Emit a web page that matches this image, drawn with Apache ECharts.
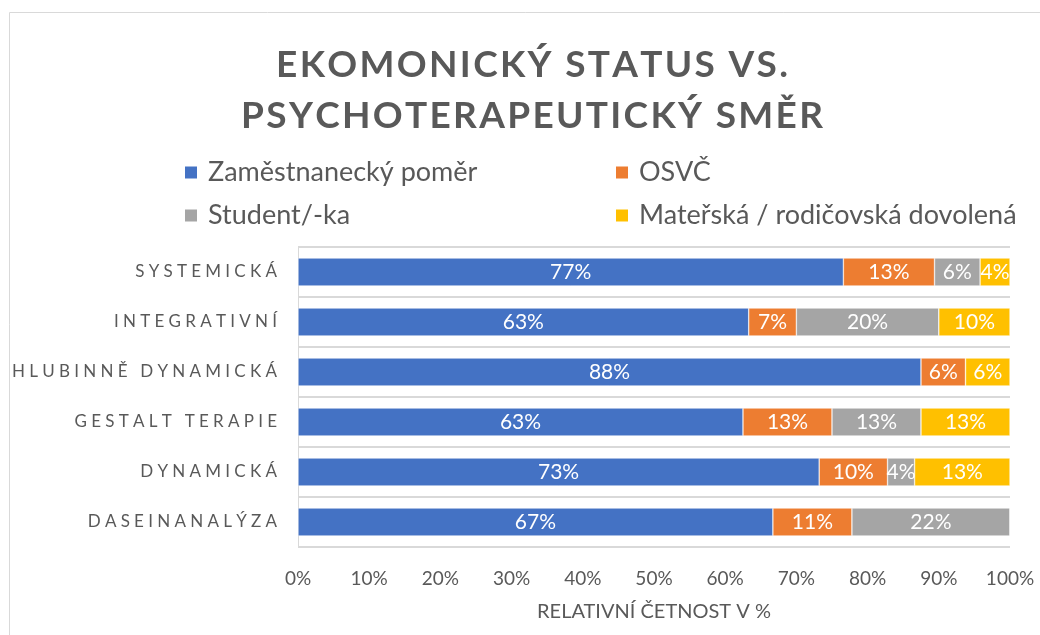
<!DOCTYPE html>
<html>
<head>
<meta charset="utf-8">
<script src="https://cdn.jsdelivr.net/npm/echarts@6/dist/echarts.min.js"></script>
<style>html,body{margin:0;padding:0;background:#fff}#c{width:1040px;height:635px}</style>
</head>
<body>
<div id="c"></div>
<script>
const categories = ['Systemická', 'Integrativní', 'Hlubinně dynamická', 'Gestalt terapie', 'Dynamická', 'Daseinanalýza'];
const seriesNames = ['Zaměstnanecký poměr', 'OSVČ', 'Student/-ka', 'Mateřská / rodičovská dovolená'];
const zamestnanec = [76.6, 63.3, 87.5, 62.5, 73.2, 66.7];
const osvc = [12.8, 6.7, 6.25, 12.5, 9.6, 11.1];
const student = [6.4, 20.0, 0, 12.5, 3.8, 22.2];
const materska = [4.2, 10.0, 6.25, 12.5, 13.4, 0];
const xTicks = [0, 10, 20, 30, 40, 50, 60, 70, 80, 90, 100];
const titleLines = ['EKOMONICKÝ STATUS VS.', 'PSYCHOTERAPEUTICKÝ SMĚR'];
const xAxisName = 'RELATIVNÍ ČETNOST V %';

const colors = ['#4472C4', '#ED7D31', '#A5A5A5', '#FFC000'];
const FONT = 'Lato, "Open Sans", sans-serif';
const GRAY = '#595959';

function spaced(s, sp) {
  return Array.from(s.toUpperCase()).join(sp);
}

const chart = echarts.init(document.getElementById('c'), null, {renderer: 'canvas'});
const allData = [zamestnanec, osvc, student, materska];

const legendPos = [[183, 159], [614, 159], [183, 202], [614, 202]];

const option = {
  animation: false,
  color: colors,
  title: {
    text: titleLines.map(l => spaced(l, '\u200A')).join('\n'),
    left: 527,
    textAlign: 'center',
    top: 35,
    textStyle: {fontFamily: FONT, fontSize: 37, fontWeight: 'bold', color: GRAY, lineHeight: 51}
  },
  legend: seriesNames.map((n, i) => ({
    data: [n],
    left: legendPos[i][0],
    top: legendPos[i][1],
    padding: 0,
    itemWidth: 14, itemHeight: 14,
    icon: 'rect',
    itemGap: 8,
    textStyle: {fontFamily: FONT, fontSize: 27, color: GRAY, padding: [0, 0, 0, 5]}
  })),
  graphic: [{
    type: 'rect',
    shape: {x: 9.5, y: 12.5, width: 1100, height: 700},
    style: {fill: 'none', stroke: '#d9d9d9', lineWidth: 1},
    silent: true
  }],
  grid: {left: 298, right: 30, top: 247, bottom: 88, containLabel: false},
  xAxis: {
    type: 'value', min: xTicks[0], max: xTicks[xTicks.length - 1], interval: xTicks[1] - xTicks[0],
    axisLine: {show: false}, axisTick: {show: false}, splitLine: {show: false},
    axisLabel: {formatter: '{value}%', fontFamily: FONT, fontSize: 19, color: GRAY, margin: 22},
    name: xAxisName, nameLocation: 'middle', nameGap: 55,
    nameTextStyle: {fontFamily: FONT, fontSize: 20, color: GRAY}
  },
  yAxis: {
    type: 'category', inverse: true,
    data: categories,
    axisLine: {show: true, lineStyle: {color: '#d9d9d9', width: 1}},
    axisTick: {show: false},
    splitLine: {show: true, lineStyle: {color: '#d9d9d9', width: 2}},
    axisLabel: {
      formatter: v => spaced(v, '\u2009\u2009'),
      fontFamily: FONT, fontSize: 17, color: GRAY, margin: 21
    }
  },
  series: seriesNames.map((n, i) => ({
    name: n, type: 'bar', stack: 'total',
    barCategoryGap: '44%',
    data: allData[i],
    itemStyle: {color: colors[i], borderColor: '#fff', borderWidth: 0.5},
    label: {
      show: true, position: 'inside', color: '#fff', fontFamily: FONT, fontSize: 21,
      formatter: p => p.value > 0 ? Math.round(p.value) + '%' : ''
    }
  }))
};
chart.setOption(option);
</script>
</body>
</html>
